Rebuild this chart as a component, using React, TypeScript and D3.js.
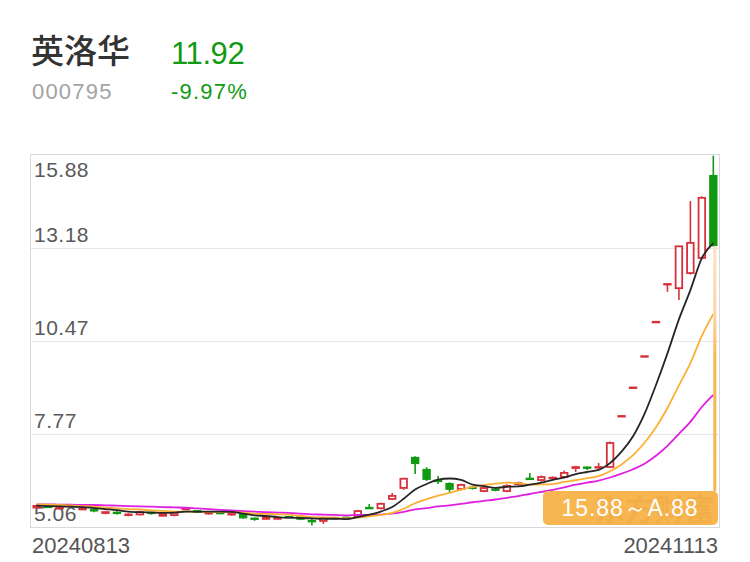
import React from "react";
import * as d3 from "d3";

const dates = [
  "20240813","20240814","20240815","20240816","20240819","20240820","20240821","20240822","20240823","20240826","20240827","20240828","20240829","20240830",
  "20240902","20240903","20240904","20240905","20240906","20240909","20240910","20240911","20240912","20240913","20240918","20240919","20240920","20240923","20240924","20240925","20240926","20240927","20240930",
  "20241008","20241009","20241010","20241011","20241014","20241015","20241016","20241017","20241018","20241021","20241022","20241023","20241024","20241025","20241028","20241029","20241030","20241031",
  "20241101","20241104","20241105","20241106","20241107","20241108","20241111","20241112","20241113",
];

const opens = [5.60,5.66,5.58,5.70,5.56,5.59,5.44,5.48,5.38,5.40,5.48,5.36,5.38,5.57,5.53,5.43,5.47,5.40,5.46,5.31,5.27,5.27,5.36,5.37,5.24,5.21,5.33,5.34,5.35,5.62,5.58,5.85,6.17,7.10,6.75,6.42,6.34,6.14,6.21,6.08,6.16,6.08,6.28,6.47,6.40,6.46,6.49,6.75,6.80,6.77,6.78,8.28,9.11,10.02,11.02,12.12,11.98,12.42,12.86,15.30];
const highs = [5.72,5.68,5.65,5.72,5.62,5.60,5.53,5.52,5.46,5.53,5.51,5.47,5.51,5.64,5.54,5.50,5.50,5.47,5.47,5.33,5.37,5.36,5.37,5.38,5.30,5.36,5.35,5.36,5.56,5.73,5.77,6.05,6.50,7.12,6.80,6.54,6.36,6.32,6.25,6.24,6.19,6.30,6.38,6.63,6.56,6.53,6.70,6.84,6.82,6.92,7.55,8.28,9.11,10.02,11.02,12.12,13.25,14.54,14.68,15.86];
const lows = [5.58,5.61,5.56,5.64,5.55,5.49,5.43,5.42,5.37,5.39,5.42,5.35,5.37,5.56,5.50,5.42,5.43,5.39,5.30,5.24,5.26,5.26,5.32,5.26,5.10,5.15,5.30,5.29,5.33,5.59,5.57,5.84,6.14,6.60,6.40,6.31,6.08,6.12,6.15,6.07,6.10,6.07,6.26,6.44,6.38,6.45,6.47,6.66,6.72,6.76,6.77,8.28,9.11,10.02,11.02,11.90,11.66,12.40,12.85,13.22];
const closes = [5.70,5.63,5.63,5.66,5.60,5.51,5.52,5.46,5.45,5.52,5.46,5.46,5.50,5.59,5.51,5.49,5.46,5.46,5.31,5.29,5.36,5.35,5.33,5.27,5.22,5.35,5.31,5.31,5.55,5.60,5.76,5.99,6.49,6.89,6.43,6.38,6.14,6.31,6.19,6.22,6.13,6.28,6.36,6.45,6.54,6.51,6.66,6.83,6.77,6.82,7.53,8.28,9.11,10.02,11.02,12.12,13.25,13.35,14.66,13.23];

const ma5 = [5.68,5.67,5.66,5.65,5.64,5.61,5.58,5.55,5.51,5.49,5.48,5.47,5.48,5.51,5.50,5.51,5.51,5.50,5.45,5.40,5.38,5.35,5.33,5.32,5.31,5.30,5.30,5.29,5.35,5.42,5.51,5.64,5.88,6.15,6.31,6.44,6.47,6.43,6.29,6.25,6.20,6.23,6.24,6.29,6.35,6.43,6.50,6.60,6.66,6.72,6.92,7.25,7.70,8.35,9.19,10.11,11.10,11.95,12.88,13.32];
const ma10 = [5.72,5.71,5.70,5.69,5.67,5.65,5.62,5.60,5.58,5.57,5.54,5.53,5.51,5.51,5.50,5.50,5.49,5.49,5.48,5.45,5.44,5.43,5.42,5.38,5.35,5.34,5.33,5.31,5.33,5.37,5.41,5.47,5.59,5.75,5.87,5.97,6.05,6.15,6.22,6.28,6.32,6.35,6.33,6.29,6.30,6.31,6.37,6.42,6.48,6.54,6.68,6.88,7.15,7.51,7.96,8.52,9.18,9.83,10.62,11.26];
const ma20 = [5.72,5.72,5.71,5.71,5.70,5.70,5.69,5.68,5.67,5.66,5.65,5.64,5.63,5.62,5.60,5.58,5.56,5.54,5.52,5.51,5.49,5.48,5.47,5.45,5.43,5.42,5.41,5.40,5.41,5.41,5.42,5.45,5.50,5.57,5.61,5.66,5.69,5.73,5.78,5.82,5.86,5.91,5.96,6.02,6.08,6.14,6.21,6.29,6.35,6.41,6.50,6.61,6.74,6.90,7.13,7.42,7.77,8.12,8.55,8.90];

const yTicks = ["15.88", "13.18", "10.47", "7.77", "5.06"];
const stockName = "英洛华";
const stockCode = "000795";
const lastPrice = "11.92";
const changePct = "-9.97%";
const tipText = "15.88～A.88";
const watermark = "东方财富";

const W = 750, H = 562;
const L = 31, R = 719, T = 155, B = 527;
const RED = "#d8303a";
const GREEN = "#0f9a12";
const FONT = "'Liberation Sans', Arial, sans-serif";

export default function App() {
  const idx = dates.map((_, i) => i);
  const x = d3.scaleBand<number>().domain(idx).range([L, R]).paddingInner(0.27).paddingOuter(0.13);
  const y = d3.scaleLinear().domain([5.06, 15.88]).range([B, T]);
  const bw = x.bandwidth();
  const cx = (i: number) => (x(i) as number) + bw / 2;

  const line = (arr: number[]) =>
    d3.line<number>().x((_, i) => cx(i)).y((v) => y(v)).curve(d3.curveMonotoneX)(arr) || "";

  const tickVals = yTicks.map(Number);
  const lastI = dates.length - 1;
  const lineX = cx(lastI) + 1.5;
  const boxR = 718, boxL = 543, boxT = 491, boxB = 525;

  return (
    <svg width={W} height={H} style={{ position: "absolute", left: 0, top: 0, background: "#fff" }}>
      <defs>
        <clipPath id="plot">
          <rect x={L} y={T} width={R - L} height={B - T} />
        </clipPath>
        <clipPath id="box">
          <rect x={boxL} y={boxT} width={boxR - boxL} height={boxB - boxT} rx={5} />
        </clipPath>
        <linearGradient id="vl" x1="0" y1={y(closes[lastI])} x2="0" y2={boxT} gradientUnits="userSpaceOnUse">
          <stop offset="0" stopColor="#fde3c2" />
          <stop offset="0.3" stopColor="#fbd29a" />
          <stop offset="0.45" stopColor="#f7b650" />
          <stop offset="1" stopColor="#f7b44e" />
        </linearGradient>
      </defs>
      <rect x={0} y={0} width={W} height={H} fill="#fff" />

      {/* header */}
      <text x={31} y={63} fontFamily="'Noto Sans CJK SC', sans-serif" fontSize={33} fontWeight={500} fill="#333">{stockName}</text>
      <text x={171} y={64} fontFamily={FONT} fontSize={31} fill={GREEN} letterSpacing={-0.4}>{lastPrice}</text>
      <text x={32} y={99} fontFamily={FONT} fontSize={22} fill="#a3a3a3" letterSpacing={1.2}>{stockCode}</text>
      <text x={171} y={99} fontFamily={FONT} fontSize={22} fill={GREEN} letterSpacing={1.2}>{changePct}</text>

      {/* grid */}
      {tickVals.slice(1, -1).map((v, k) => (
        <line key={k} x1={L} x2={R} y1={Math.round(y(v)) + 0.5} y2={Math.round(y(v)) + 0.5} stroke="#e6e6ec" strokeWidth={1} />
      ))}
      <rect x={L - 0.5} y={T - 0.5} width={R - L + 1} height={B - T + 1} fill="none" stroke="#d9d9dc" strokeWidth={1} />

      {/* y labels */}
      {tickVals.map((v, k) => (
        <text key={k} x={34} y={k === 0 ? T + 22 : y(v) - 6} fontFamily={FONT} fontSize={21} fill="#5a5a5a" letterSpacing={0.5}>
          {yTicks[k]}
        </text>
      ))}

      <g clipPath="url(#plot)">
        {/* candles */}
        {idx.map((i) => {
          const o = opens[i], c = closes[i], h = highs[i], l = lows[i];
          const prev = i > 0 ? closes[i - 1] : o;
          const up = c > o || (c === o && c >= prev);
          const col = up ? RED : GREEN;
          const xc = cx(i);
          const x0 = x(i) as number;
          const top = y(Math.max(o, c)), bot = y(Math.min(o, c));
          const bh = bot - top;
          const els: React.ReactNode[] = [];
          if (bh < 2.5) {
            els.push(<line key="w" x1={xc} x2={xc} y1={y(h)} y2={y(l)} stroke={col} strokeWidth={1.6} />);
            els.push(<rect key="b" x={x0} y={(top + bot) / 2 - 1.2} width={bw} height={2.4} fill={col} />);
          } else if (up) {
            els.push(<line key="w1" x1={xc} x2={xc} y1={y(h)} y2={top} stroke={col} strokeWidth={1.6} />);
            els.push(<line key="w2" x1={xc} x2={xc} y1={bot} y2={y(l)} stroke={col} strokeWidth={1.6} />);
            els.push(<rect key="b" x={x0 + 0.9} y={top + 0.9} width={bw - 1.8} height={bh - 1.8} fill="#fff" stroke={col} strokeWidth={1.8} />);
          } else {
            els.push(<line key="w" x1={xc} x2={xc} y1={y(h)} y2={y(l)} stroke={col} strokeWidth={1.6} />);
            els.push(<rect key="b" x={x0} y={top} width={bw} height={bh} fill={col} />);
          }
          return <g key={i}>{els}</g>;
        })}

        {/* moving averages */}
        <path d={line(ma20)} fill="none" stroke="#e01fe0" strokeWidth={1.8} />
        <path d={line(ma10)} fill="none" stroke="#fbb034" strokeWidth={1.8} />
        <path d={line(ma5)} fill="none" stroke="#262626" strokeWidth={1.8} />
      </g>

      {/* crosshair line */}
      <line x1={lineX} x2={lineX} y1={y(closes[lastI])} y2={boxT} stroke="url(#vl)" strokeWidth={3} />

      {/* tooltip */}
      <rect x={boxL} y={boxT} width={boxR - boxL} height={boxB - boxT} rx={5} fill="#f7b650" />
      <g clipPath="url(#box)">
        <text x={655} y={520} textAnchor="middle" fontFamily="'Noto Sans CJK SC', sans-serif" fontSize={30} fontWeight={700} fill="#eaa43f" opacity={0.45}>{watermark}</text>
      </g>
      <text x={630} y={516} textAnchor="middle" fontFamily={FONT} fontSize={23} fill="#fff" letterSpacing={0.9}>{tipText}</text>

      {/* x labels */}
      <text x={32} y={553} fontFamily={FONT} fontSize={22} fill="#555">{dates[0]}</text>
      <text x={718} y={553} textAnchor="end" fontFamily={FONT} fontSize={22} fill="#555">{dates[lastI]}</text>
    </svg>
  );
}
